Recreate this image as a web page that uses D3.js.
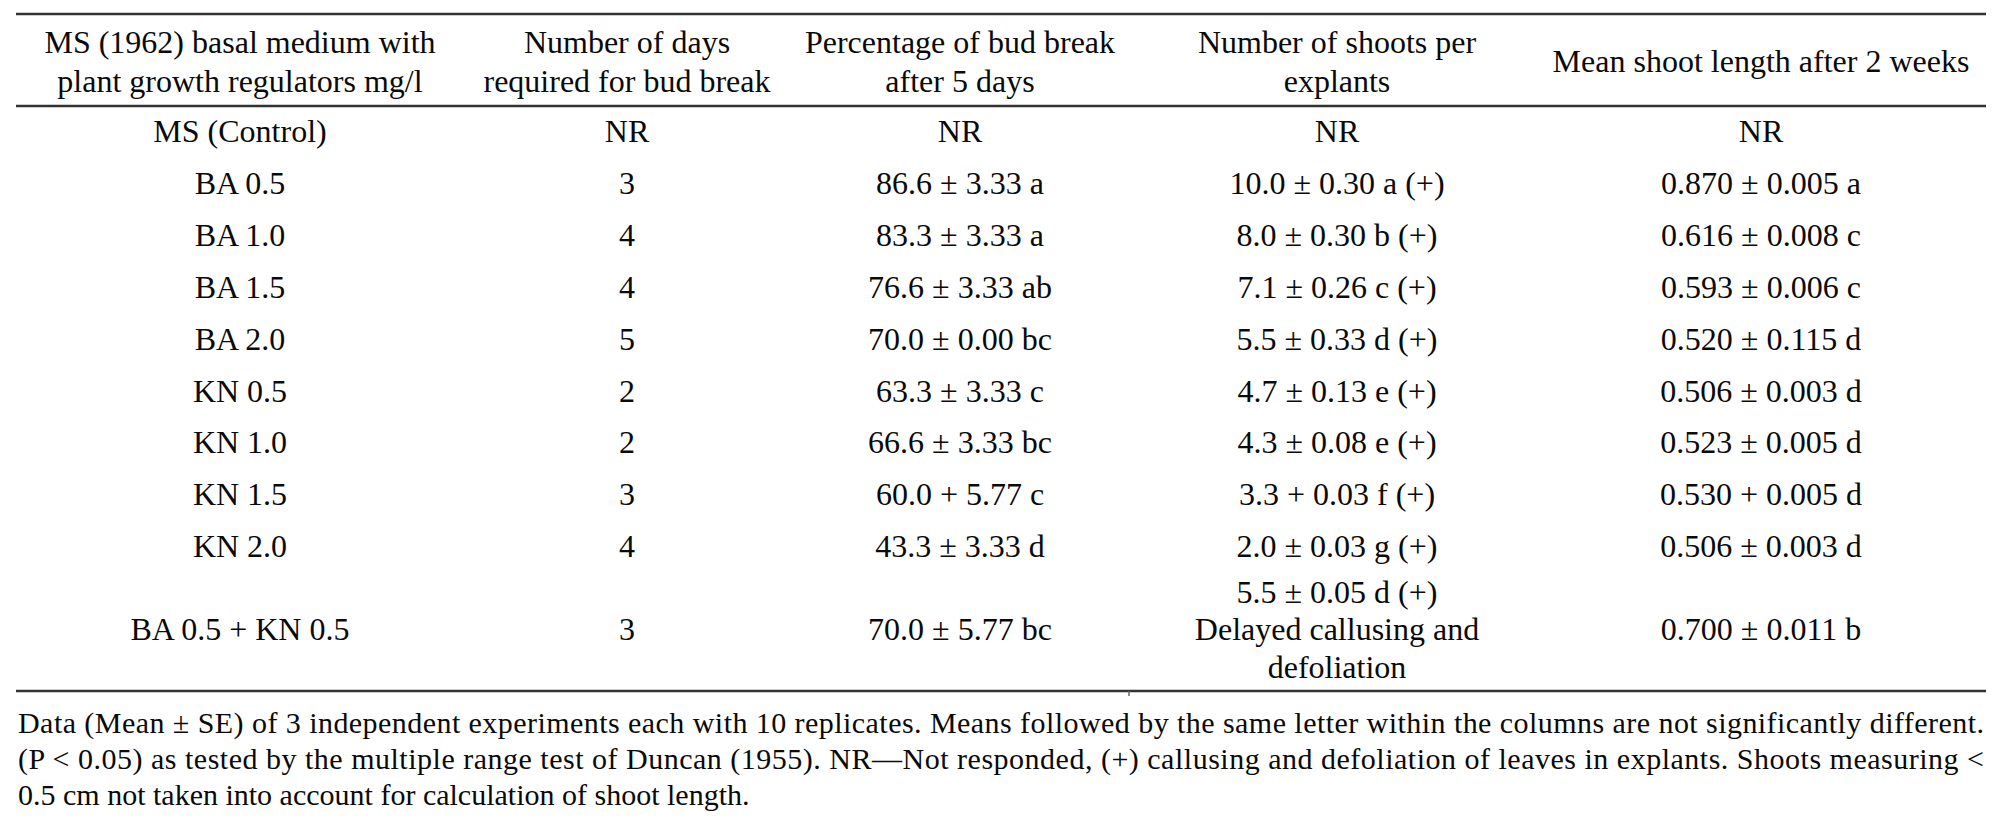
<!DOCTYPE html>
<html>
<head>
<meta charset="utf-8">
<script src="https://cdn.jsdelivr.net/npm/d3@7"></script>
<style>
  html, body { margin: 0; padding: 0; background: #fff; }
  svg { display: block; }
  text { font-family: "Liberation Serif", "Times New Roman", serif; fill: #0a0a0a; }
</style>
</head>
<body>
<svg id="table" width="2002" height="824"></svg>
<script>
// columns and header labels
var columns = ["medium", "days", "pct", "shoots", "length"];
var headers = [
	["MS (1962) basal medium with", "plant growth regulators mg/l"],
	["Number of days", "required for bud break"],
	["Percentage of bud break", "after 5 days"],
	["Number of shoots per", "explants"],
	["Mean shoot length after 2 weeks"]
];

// table body, one array per column
var treatments = ["MS (Control)", "BA 0.5", "BA 1.0", "BA 1.5", "BA 2.0",
	"KN 0.5", "KN 1.0", "KN 1.5", "KN 2.0", "BA 0.5 + KN 0.5"];
var daysBudBreak = ["NR", "3", "4", "4", "5", "2", "2", "3", "4", "3"];
var pctBudBreak = ["NR", "86.6 ± 3.33 a", "83.3 ± 3.33 a", "76.6 ± 3.33 ab", "70.0 ± 0.00 bc",
	"63.3 ± 3.33 c", "66.6 ± 3.33 bc", "60.0 + 5.77 c", "43.3 ± 3.33 d", "70.0 ± 5.77 bc"];
var shootsPerExplant = ["NR", "10.0 ± 0.30 a (+)", "8.0 ± 0.30 b (+)", "7.1 ± 0.26 c (+)", "5.5 ± 0.33 d (+)",
	"4.7 ± 0.13 e (+)", "4.3 ± 0.08 e (+)", "3.3 + 0.03 f (+)", "2.0 ± 0.03 g (+)",
	["5.5 ± 0.05 d (+)", "Delayed callusing and", "defoliation"]];
var shootLength = ["NR", "0.870 ± 0.005 a", "0.616 ± 0.008 c", "0.593 ± 0.006 c", "0.520 ± 0.115 d",
	"0.506 ± 0.003 d", "0.523 ± 0.005 d", "0.530 + 0.005 d", "0.506 ± 0.003 d", "0.700 ± 0.011 b"];

var footnote = [
	"Data (Mean ± SE) of 3 independent experiments each with 10 replicates. Means followed by the same letter within the columns are not significantly different.",
	"(P < 0.05) as tested by the multiple range test of Duncan (1955). NR—Not responded, (+) callusing and defoliation of leaves in explants. Shoots measuring <",
	"0.5 cm not taken into account for calculation of shoot length."
];

(function () {
	var svg = d3.select("#table"),
		iLeft = 16,
		iRight = 1986,
		iFont = 32,
		iLineH = 37.5,
		iRowPitch = 51.9;

	var x = d3.scaleOrdinal().domain(columns).range([240, 627, 960, 1337, 1761]);
	// regular rows 0..8, the last row is three lines tall
	var y = d3.scaleLinear().domain([0, 8]).range([142, 142 + 8 * iRowPitch]);
	var yLast = y(8) + iRowPitch + 31;

	function rowY(i) {
		return i < 9 ? y(i) : yLast;
	}

	// rules
	var aRules = [14, 106, 691];
	svg.selectAll("line.rule").data(aRules).enter().append("line")
		.attr("class", "rule")
		.attr("x1", iLeft).attr("x2", iRight)
		.attr("y1", function (d) { return d; })
		.attr("y2", function (d) { return d; })
		.attr("stroke", "#333").attr("stroke-width", 2.5);
	// small stray tick under the bottom rule
	svg.append("line")
		.attr("x1", 1129).attr("x2", 1129)
		.attr("y1", 691).attr("y2", 696)
		.attr("stroke", "#666").attr("stroke-width", 1.5);

	// header
	var $head = svg.append("g").attr("font-size", iFont);
	columns.forEach(function (c, j) {
		var aLines = headers[j],
			fTop = aLines.length === 1 ? 72 : 53;
		$head.selectAll(null).data(aLines).enter().append("text")
			.attr("x", x(c))
			.attr("y", function (d, k) { return fTop + k * 39; })
			.attr("text-anchor", "middle")
			.text(function (d) { return d; });
	});

	// body
	var aBody = [treatments, daysBudBreak, pctBudBreak, shootsPerExplant, shootLength];
	var $body = svg.append("g").attr("font-size", iFont);
	columns.forEach(function (c, j) {
		aBody[j].forEach(function (v, i) {
			var aLines = Array.isArray(v) ? v : [v],
				fMid = rowY(i),
				fStart = fMid - (aLines.length - 1) / 2 * iLineH;
			$body.selectAll(null).data(aLines).enter().append("text")
				.attr("x", x(c))
				.attr("y", function (d, k) { return fStart + k * iLineH; })
				.attr("text-anchor", "middle")
				.text(function (d) { return d; });
		});
	});

	// footnote, first two lines justified to the rule width
	svg.append("g").attr("font-size", 30)
		.selectAll("text").data(footnote).enter().append("text")
		.attr("x", iLeft + 2)
		.attr("y", function (d, i) { return 733 + i * 36; })
		.attr("textLength", function (d, i) { return i < 2 ? iRight - iLeft - 4 : null; })
		.attr("lengthAdjust", "spacing")
		.text(function (d) { return d; });
})();
</script>
</body>
</html>
